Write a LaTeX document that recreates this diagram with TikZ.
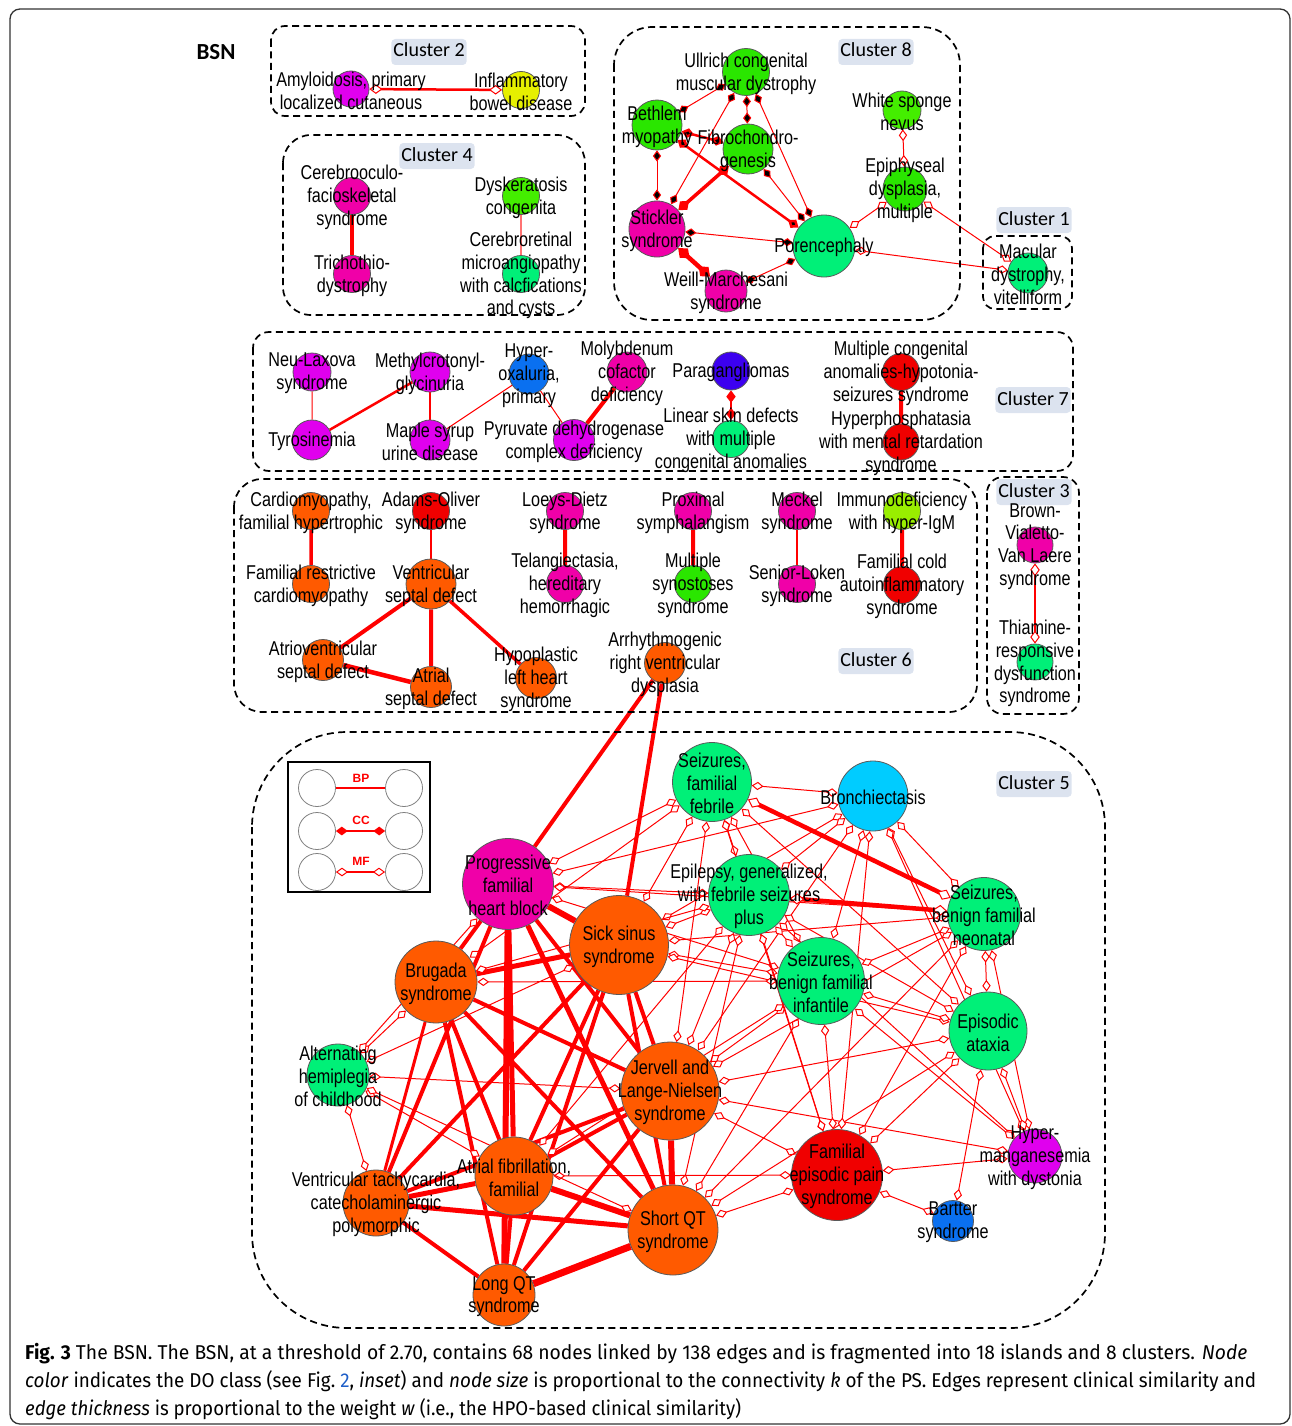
\documentclass[tikz,border=0pt]{standalone}
\usepackage{fontspec}
\usepackage{xcolor}
\usepackage{graphicx}
\usepackage{tikz}
\usetikzlibrary{arrows.meta}

\newfontfamily\lblfont[FakeStretch=0.81]{Liberation Sans}
\newfontfamily\clfont{Carlito}
\newfontfamily\legfont{Liberation Sans}
\newfontfamily\capfont{Fira Sans}

\definecolor{dmag}{HTML}{E000EE}
\definecolor{dpink}{HTML}{F000A8}
\definecolor{dgreen}{HTML}{2AE600}
\definecolor{dlime}{HTML}{44EE00}
\definecolor{dchart}{HTML}{99EE00}
\definecolor{dspring}{HTML}{00F078}
\definecolor{dyellow}{HTML}{E6F000}
\definecolor{dorange}{HTML}{FF5A00}
\definecolor{dred}{HTML}{F00000}
\definecolor{dblue}{HTML}{0A70F0}
\definecolor{dviolet}{HTML}{3C00F0}
\definecolor{dsky}{HTML}{00CCFF}
\definecolor{clbg}{HTML}{DCE3EF}
\definecolor{edgered}{HTML}{FF0000}
\definecolor{capblue}{HTML}{1F5FC8}

\pgfdeclarelayer{edges}
\pgfdeclarelayer{front}
\pgfsetlayers{edges,main,front}

\begin{document}
\begin{tikzpicture}[x=1pt, y=-1pt,
  dis/.style={circle, draw=gray!70!black, line width=0.8pt, inner sep=0pt},
  lbl/.style={inner sep=0pt, align=center, yshift=-1.5pt, font=\lblfont\fontsize{20}{22.8}\selectfont},
  clus/.style={draw=black, line width=1.7pt, dash pattern=on 7pt off 4.5pt},
  clab/.style={fill=clbg, rounded corners=4pt, inner xsep=2pt, inner ysep=4pt,
    text height=14pt, text depth=4pt, font=\clfont\fontsize{20}{22}\selectfont},
  legt/.style={text=edgered, inner sep=0pt, font=\legfont\bfseries\fontsize{12}{14}\selectfont},
  ccd/.tip={Diamond[length=10pt 1.2, width=7pt 1.2]},
  mfd/.tip={Diamond[fill=white, line width=1pt, length=11pt 0.8, width=7.5pt 0.8]},
  bp edge/.style={draw=edgered},
  cc edge/.style={draw=edgered, arrows=ccd-ccd},
  mf edge/.style={draw=edgered, arrows=mfd-mfd},
  capt/.style={inner sep=0pt, font=\capfont\fontsize{20}{27}\selectfont}]
  \def\dnode#1#2#3#4#5#6{%
    \node[dis, minimum size=#4pt, fill=#5] (#1) at (#2,#3) {};
    \begin{pgfonlayer}{front}
      \node[lbl] (#1-lbl) at (#2,#3) {#6};
    \end{pgfonlayer}}
  \useasboundingbox (0,0) rectangle (1292,1426);
  \draw[line width=1.3pt, draw=black!80, rounded corners=10pt] (10,9) rectangle (1290,1424);
  \node[font=\clfont\bfseries\fontsize{23}{25}\selectfont] (bsn) at (216,52) {BSN};

  \draw[clus, rounded corners=14pt] (271,26) rectangle (585,116);
  \draw[clus, rounded corners=28pt] (283,135) rectangle (585,315);
  \draw[clus, rounded corners=38pt] (614,27) rectangle (960,320);
  \draw[clus, rounded corners=12pt] (983,236) rectangle (1072,309);
  \draw[clus, rounded corners=16pt] (253,332) rectangle (1073,471);
  \draw[clus, rounded corners=28pt] (234,479) rectangle (977,712);
  \draw[clus, rounded corners=16pt] (987,477) rectangle (1079,714);
  \draw[clus, rounded corners=95pt] (252,732) rectangle (1105,1328);
  \node[clab] (c2) at (429,52) {Cluster 2};
  \node[clab] (c8) at (876,52) {Cluster 8};
  \node[clab] (c4) at (437,156) {Cluster 4};
  \node[clab] (c1) at (1034,220) {Cluster 1};
  \node[clab] (c7) at (1033,400) {Cluster 7};
  \node[clab] (c3) at (1034,492) {Cluster 3};
  \node[clab] (c6) at (876,661) {Cluster 6};
  \node[clab] (c5) at (1034,784) {Cluster 5};

  \dnode{amy}{351}{89}{36}{dmag}{Amyloidosis, primary\\localized cutaneous}
  \dnode{ibd}{521}{90}{37}{dyellow}{Inflammatory\\bowel disease}
  \dnode{cof}{352}{196}{37}{dpink}{Cerebrooculo-\\facioskeletal\\syndrome}
  \dnode{tri}{352}{274}{37}{dpink}{Trichothio-\\dystrophy}
  \dnode{dys}{521}{196}{37}{dlime}{Dyskeratosis\\congenita}
  \dnode{cmc}{521}{274}{37}{dspring}{Cerebroretinal\\microangiopathy\\with calcfications\\and cysts}

  \dnode{ull}{746}{72}{47}{dgreen}{Ullrich congenital\\muscular dystrophy}
  \dnode{bet}{657}{125}{50}{dgreen}{Bethlem\\myopathy}
  \dnode{fib}{748}{149}{50}{dgreen}{Fibrochondro-\\genesis}
  \dnode{wsn}{902}{110}{38}{dlime}{White sponge\\nevus}
  \dnode{epi}{905}{189}{44}{dgreen}{Epiphyseal\\dysplasia,\\multiple}
  \dnode{sti}{657}{229}{56}{dpink}{Stickler\\syndrome}
  \dnode{por}{824}{246}{62}{dspring}{Porencephaly}
  \dnode{wei}{726}{291}{42}{dpink}{Weill-Marchesani\\syndrome}
  \dnode{mac}{1028}{273}{40}{dspring}{Macular\\dystrophy,\\vitelliform}

  \dnode{neu}{312}{372}{38}{dmag}{Neu-Laxova\\syndrome}
  \dnode{tyr}{312}{440}{40}{dmag}{Tyrosinemia}
  \dnode{met}{430}{372}{40}{dmag}{Methylcrotonyl-\\glycinuria}
  \dnode{msu}{430}{440}{40}{dmag}{Maple syrup\\urine disease}
  \dnode{hyo}{529}{374}{40}{dblue}{Hyper-\\oxaluria,\\primary}
  \dnode{moc}{627}{372}{40}{dpink}{Molybdenum\\cofactor\\deficiency}
  \dnode{pdc}{574}{440}{41}{dmag}{Pyruvate dehydrogenase\\complex deficiency}
  \dnode{par}{731}{371}{38}{dviolet}{Paragangliomas}
  \dnode{lsd}{731}{439}{37}{dspring}{Linear skin defects\\with multiple\\congenital anomalies}
  \dnode{mca}{901}{372}{37}{dred}{Multiple congenital\\anomalies-hypotonia-\\seizures syndrome}
  \dnode{hyp}{901}{442}{36}{dred}{Hyperphosphatasia\\with mental retardation\\syndrome}

  \dnode{cmh}{311}{511}{37}{dorange}{Cardiomyopathy,\\familial hypertrophic}
  \dnode{aos}{431}{511}{37}{dred}{Adams-Oliver\\syndrome}
  \dnode{frc}{311}{584}{37}{dorange}{Familial restrictive\\cardiomyopathy}
  \dnode{vsd}{431}{584}{50}{dorange}{Ventricular\\septal defect}
  \dnode{avs}{323}{660}{41}{dorange}{Atrioventricular\\septal defect}
  \dnode{asd}{431}{687}{41}{dorange}{Atrial\\septal defect}
  \dnode{hlh}{536}{678}{41}{dorange}{Hypoplastic\\left heart\\syndrome}
  \dnode{lds}{565}{511}{37}{dpink}{Loeys-Dietz\\syndrome}
  \dnode{tel}{565}{584}{37}{dpink}{Telangiectasia,\\hereditary\\hemorrhagic}
  \dnode{psy}{693}{511}{37}{dpink}{Proximal\\symphalangism}
  \dnode{mss}{693}{584}{37}{dgreen}{Multiple\\synostoses\\syndrome}
  \dnode{arv}{665}{663}{41}{dorange}{Arrhythmogenic\\right ventricular\\dysplasia}
  \dnode{mec}{797}{511}{37}{dpink}{Meckel\\syndrome}
  \dnode{slo}{797}{584}{37}{dpink}{Senior-Loken\\syndrome}
  \dnode{imh}{902}{511}{37}{dchart}{Immunodeficiency\\with hyper-IgM}
  \dnode{fca}{902}{585}{37}{dred}{Familial cold\\autoinflammatory\\syndrome}
  \dnode{bvv}{1035}{545}{36}{dpink}{Brown-\\Vialetto-\\Van Laere\\syndrome}
  \dnode{trd}{1035}{662}{36}{dspring}{Thiamine-\\responsive\\dysfunction\\syndrome}

  \dnode{pfh}{508}{884}{91}{dpink}{Progressive\\familial\\heart block}
  \dnode{sss}{619}{945}{99}{dorange}{Sick sinus\\syndrome}
  \dnode{bru}{436}{982}{82}{dorange}{Brugada\\syndrome}
  \dnode{sff}{712}{782}{79}{dspring}{Seizures,\\familial\\febrile}
  \dnode{bro}{873}{796}{70}{dsky}{Bronchiectasis}
  \dnode{gef}{749}{895}{81}{dspring}{Epilepsy, generalized,\\with febrile seizures\\plus}
  \dnode{sbn}{984}{914}{73}{dspring}{Seizures,\\benign familial\\neonatal}
  \dnode{sbi}{821}{981}{87}{dspring}{Seizures,\\benign familial\\infantile}
  \dnode{epa}{988}{1031}{78}{dspring}{Episodic\\ataxia}
  \dnode{ahc}{338}{1075}{62}{dspring}{Alternating\\hemiplegia\\of childhood}
  \dnode{jln}{670}{1091}{98}{dorange}{Jervell and\\Lange-Nielsen\\syndrome}
  \dnode{afi}{514}{1176}{78}{dorange}{Atrial fibrillation,\\familial}
  \dnode{vtc}{376}{1203}{66}{dorange}{Ventricular tachycardia,\\catecholaminergic\\polymorphic}
  \dnode{sqt}{673}{1230}{90}{dorange}{Short QT\\syndrome}
  \dnode{lqt}{504}{1295}{62}{dorange}{Long QT\\syndrome}
  \dnode{fep}{837}{1175}{91}{dred}{Familial\\episodic pain\\syndrome}
  \dnode{hmd}{1035}{1156}{54}{dmag}{Hyper-\\manganesemia\\with dystonia}
  \dnode{bar}{953}{1221}{41}{dblue}{Bartter\\syndrome}

  \draw[line width=1.5pt] (288,762) rectangle (430,892);
  \node[dis, draw=gray, fill=white, minimum size=37pt] (lgb1) at (317,788) {};
  \node[dis, draw=gray, fill=white, minimum size=37pt] (lgb2) at (404,788) {};
  \node[dis, draw=gray, fill=white, minimum size=37pt] (lgc1) at (317,831) {};
  \node[dis, draw=gray, fill=white, minimum size=37pt] (lgc2) at (404,831) {};
  \node[dis, draw=gray, fill=white, minimum size=37pt] (lgm1) at (317,872) {};
  \node[dis, draw=gray, fill=white, minimum size=37pt] (lgm2) at (404,872) {};
  \draw[bp edge, line width=1.5pt] (lgb1) -- (lgb2);
  \draw[cc edge, line width=1.5pt] (lgc1) -- (lgc2);
  \draw[mf edge, line width=1.5pt] (lgm1) -- (lgm2);
  \node[legt] (lgbt) at (361,778) {BP};
  \node[legt] (lgct) at (361,820) {CC};
  \node[legt] (lgmt) at (361,861) {MF};

  \begin{pgfonlayer}{edges}
  \draw[mf edge, line width=2.5pt] (amy) -- (ibd);
  \draw[bp edge, line width=4pt] (cof) -- (tri);
  \draw[bp edge, draw=edgered!55, line width=1.5pt] (dys) -- (cmc);

  \path[cc edge, line width=1pt] (ull) edge (bet) edge (fib) edge (sti) edge (por)
    (fib) edge (por) (sti) edge (por) (wei) edge (por) (bet) edge (sti);
  \path[cc edge, line width=2.5pt] (bet) edge (fib) edge (por);
  \draw[cc edge, line width=3.5pt] (fib) -- (sti);
  \draw[cc edge, line width=4.5pt] (sti) -- (wei);
  \path[mf edge, line width=1pt] (wsn) edge (epi) (epi) edge (por) edge (mac) (por) edge (mac);

  \draw[bp edge, line width=1pt] (neu) -- (tyr) (msu) -- (hyo) (hyo) -- (pdc);
  \draw[bp edge, line width=2.5pt] (tyr) -- (met);
  \draw[bp edge, line width=1.6pt] (met) -- (msu);
  \draw[bp edge, line width=4pt] (moc) -- (pdc) (mca) -- (hyp);
  \draw[cc edge, line width=2pt] (par) -- (lsd);

  \draw[bp edge, line width=3.5pt] (cmh) -- (frc) (vsd) -- (hlh);
  \draw[bp edge, line width=1.5pt] (aos) -- (vsd);
  \draw[bp edge, line width=4pt] (vsd) -- (avs) (vsd) -- (asd) (lds) -- (tel)
    (psy) -- (mss) (imh) -- (fca);
  \draw[bp edge, line width=4.5pt] (avs) -- (asd);
  \draw[bp edge, line width=2pt] (mec) -- (slo);
  \draw[mf edge, line width=2.5pt] (bvv) -- (trd);

  \draw[bp edge, line width=4pt] (arv) -- (pfh) (arv) -- (sss);
  \draw[bp edge, line width=6pt] (pfh) -- (sss) (pfh) -- (lqt) (jln) -- (sqt) (afi) -- (sqt);
  \draw[bp edge, line width=7pt] (sqt) -- (lqt);
  \draw[bp edge, line width=5pt] (pfh) -- (afi) (pfh) -- (sqt) (sss) -- (bru)
    (afi) -- (vtc) (vtc) -- (sqt);
  \draw[bp edge, line width=4pt] (pfh) -- (bru) (pfh) -- (jln) (pfh) -- (vtc)
    (sss) -- (jln) (sss) -- (afi) (sss) -- (vtc) (sss) -- (sqt) (sss) -- (lqt)
    (bru) -- (jln) (bru) -- (afi) (bru) -- (sqt) (bru) -- (lqt)
    (jln) -- (afi) (jln) -- (vtc) (jln) -- (lqt) (afi) -- (lqt) (vtc) -- (lqt);
  \draw[bp edge, line width=3pt] (bru) -- (vtc);

  \path[mf edge, line width=1pt]
    (pfh) edge (sff) edge (gef) edge (sbi) edge (bro) edge (sbn)
    (sss) edge (sff) edge (gef) edge (sbn) edge (sbi) edge (epa) edge (bro)
    (bru) edge (sff) edge (gef) edge (sbi)
    (jln) edge (sff) edge (bro) edge (gef) edge (sbn) edge (sbi) edge (epa) edge (fep) edge (hmd)
    (sqt) edge (gef) edge (sbn) edge (sbi) edge (epa) edge (fep)
    (afi) edge (fep) edge (sbi) edge (gef)
    (ahc) edge (bru) edge (pfh) edge (vtc) edge (jln) edge (afi) edge (sqt) edge (sss)
    (sff) edge (bro) edge (gef) edge (sbi) edge (epa) edge (fep)
    (bro) edge (gef) edge (sbn) edge (sbi) edge (epa) edge (fep) edge (hmd)
    (gef) edge (sbi) edge (epa) edge (fep) edge (hmd)
    (sbn) edge (sbi) edge (epa) edge (fep) edge (hmd)
    (sbi) edge (epa) edge (fep) edge (hmd)
    (epa) edge (fep) edge (hmd) edge (bar)
    (fep) edge (hmd) edge (bar);
  \path[mf edge, line width=4.5pt] (sff) edge (sbn) (gef) edge (sbn);
  \end{pgfonlayer}

  \node[capt, anchor=base west] (cap1) at (25,1359) {\resizebox{1222pt}{\height}{\textbf{Fig. 3} The BSN. The BSN, at a threshold of 2.70, contains 68 nodes linked by 138 edges and is fragmented into 18 islands and 8 clusters. \textit{Node}}};
  \node[capt, anchor=base west] (cap2) at (25,1387) {\resizebox{1231pt}{\height}{\textit{color} indicates the DO class (see Fig.~\textcolor{capblue}{2}, \textit{inset}) and \textit{node size} is proportional to the connectivity \textit{k} of the PS. Edges represent clinical similarity and}};
  \node[capt, anchor=base west] (cap3) at (25,1415) {\resizebox{716pt}{\height}{\textit{edge thickness} is proportional to the weight \textit{w} (i.e., the HPO-based clinical similarity)}};
\end{tikzpicture}
\end{document}
